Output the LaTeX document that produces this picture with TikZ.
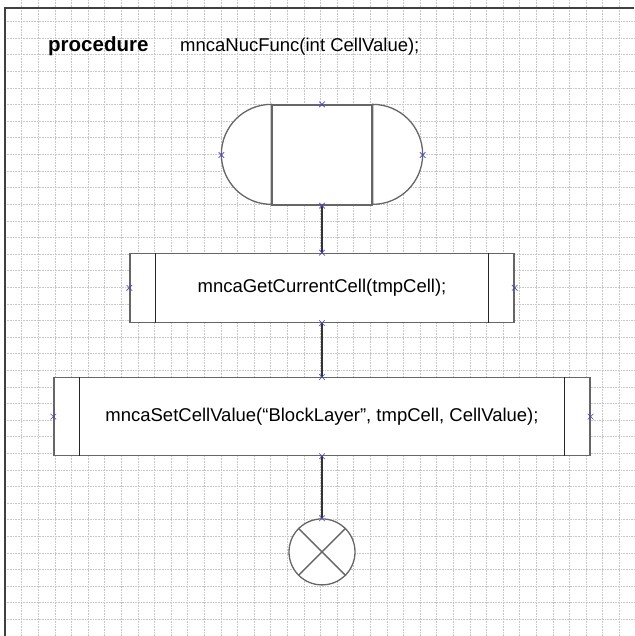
\documentclass[tikz,border=0pt]{standalone}
\usepackage{fontspec}
\setmainfont{Liberation Sans}
\usetikzlibrary{positioning,shapes.misc}

\begin{document}
\begin{tikzpicture}[
    x=1pt, y=1pt,
    gridline/.style={gray!45, densely dotted, line width=0.6pt},
    frame/.style={black!75, line width=1.6pt},
    outline/.style={draw=black!60, line width=1.3pt, fill=white},
    terminal/.style={outline, minimum width=100pt, minimum height=100pt, inner sep=0pt},
    subproc/.style={outline, align=center, inner sep=0pt, font=\fontsize{18.5}{22}\selectfont},
    endcircle/.style={outline, circle, minimum size=66pt, inner sep=0pt},
    sideline/.style={black!85, line width=0.9pt},
    conn/.style={black!80, line width=1.1pt},
    xmark/.style={draw=blue!45!gray, cross out, minimum size=5pt, inner sep=0pt, line width=0.6pt}
  ]
    \useasboundingbox (0,0) rectangle (634,-636);
    \fill[white] (0,0) rectangle (634,-636);

    % background grid
    \foreach \i in {1,...,38}
      \draw[gridline] ({5+16.6*\i},0) -- ({5+16.6*\i},-636);
    \foreach \j in {1,...,38}
      \draw[gridline] (5,{-5-16.6*\j}) -- (634,{-5-16.6*\j});
    \draw[frame] (5,-636) -- (5,-8) -- (634,-8);

    % heading
    \node[anchor=west, inner sep=0pt, font=\bfseries\fontsize{20.5}{24}\selectfont] (kw) at (48,-46) {procedure};
    \node[anchor=west, inner sep=0pt, font=\fontsize{18.5}{22}\selectfont] (head) at (180,-47) {mncaNucFunc(int CellValue);};

    % flow
    \node[terminal] (start) at (322,-155) {};
    \filldraw[outline] (start.north west) arc[start angle=90, end angle=270, radius=50] -- cycle;
    \filldraw[outline] (start.north east) arc[start angle=90, end angle=-90, radius=50] -- cycle;
    \node[subproc, minimum width=384pt, minimum height=69pt, below=47pt of start] (get) {mncaGetCurrentCell(tmpCell);};
    \node[subproc, minimum width=536pt, minimum height=78pt, below=54pt of get] (set) {mncaSetCellValue(“BlockLayer”, tmpCell, CellValue);};
    \node[endcircle, below=62pt of set] (stop) {};
    \draw[outline] (stop.north west) -- (stop.south east);
    \draw[outline] (stop.north east) -- (stop.south west);

    % inner side lines of the procedure boxes
    \foreach \n in {get,set} {
      \draw[sideline] ([xshift=26pt]\n.north west) -- ([xshift=26pt]\n.south west);
      \draw[sideline] ([xshift=-26pt]\n.north east) -- ([xshift=-26pt]\n.south east);
    }

    \draw[conn] (start.south) -- (get.north);
    \draw[conn] (get.south) -- (set.north);
    \draw[conn] (set.south) -- (stop.north);

    % connection points
    \foreach \n in {get,set}
      \foreach \a in {north,south,east,west}
        \node[xmark] (\n-\a) at (\n.\a) {};
    \node[xmark] (start-north) at (start.north) {};
    \node[xmark] (start-south) at (start.south) {};
    \node[xmark] (start-west) at ([xshift=-50pt]start.west) {};
    \node[xmark] (start-east) at ([xshift=50pt]start.east) {};
    \node[xmark] (stop-north) at (stop.north) {};
  \end{tikzpicture}
\end{document}
